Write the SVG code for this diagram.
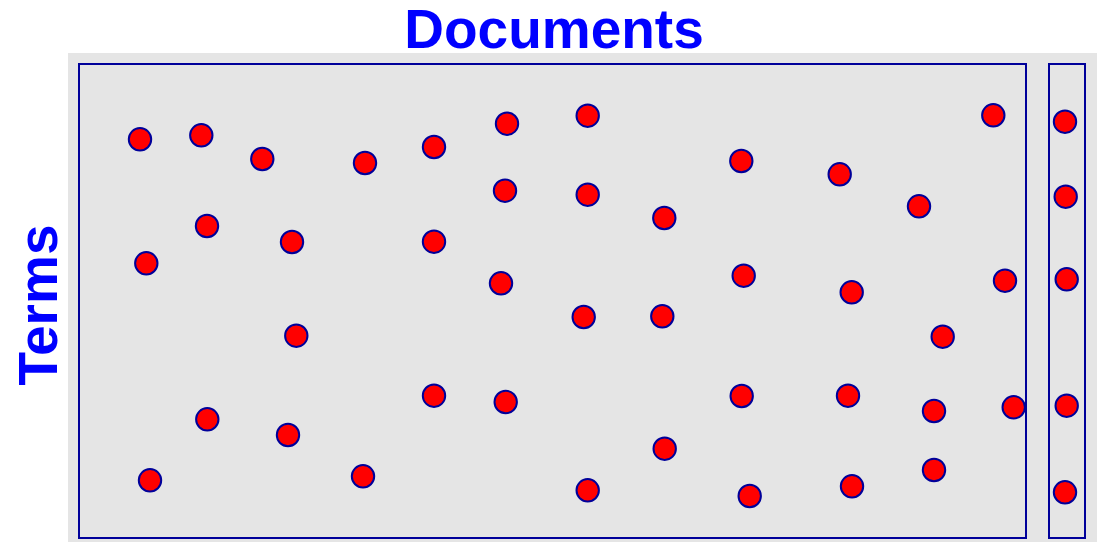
<svg xmlns="http://www.w3.org/2000/svg" width="1103" height="542" viewBox="0 0 1103 542">
<style>
.lbl{font-family:"Liberation Sans",Arial,sans-serif;font-weight:bold;font-size:55px;fill:#0000ff;text-anchor:middle}
.box{fill:none;stroke:#00009a;stroke-width:2}
.d{fill:#ff0000;stroke:#00009a;stroke-width:2}
</style>
<rect x="68" y="53" width="1029" height="489" fill="#e5e5e5"/>
<text class="lbl" x="554" y="48">Documents</text>
<text class="lbl" transform="translate(57,305) rotate(-90)">Terms</text>
<g id="matrix"><rect class="box" x="79" y="64" width="947" height="474"/></g>
<g id="query"><rect class="box" x="1049" y="64" width="36" height="474"/></g>
<g id="dots">
<circle class="d" cx="140" cy="139.3" r="11.2"/>
<circle class="d" cx="201.3" cy="135.3" r="11.2"/>
<circle class="d" cx="262.3" cy="159" r="11.2"/>
<circle class="d" cx="365" cy="163" r="11.2"/>
<circle class="d" cx="434" cy="147" r="11.2"/>
<circle class="d" cx="207" cy="226" r="11.2"/>
<circle class="d" cx="292" cy="242" r="11.2"/>
<circle class="d" cx="434" cy="241.7" r="11.2"/>
<circle class="d" cx="146.3" cy="263.3" r="11.2"/>
<circle class="d" cx="507" cy="123.7" r="11.2"/>
<circle class="d" cx="587.7" cy="115.7" r="11.2"/>
<circle class="d" cx="741.3" cy="161" r="11.2"/>
<circle class="d" cx="505" cy="190.7" r="11.2"/>
<circle class="d" cx="587.7" cy="194.7" r="11.2"/>
<circle class="d" cx="664.3" cy="218" r="11.2"/>
<circle class="d" cx="993.3" cy="115.3" r="11.2"/>
<circle class="d" cx="1065" cy="121.7" r="11.2"/>
<circle class="d" cx="839.7" cy="174.3" r="11.2"/>
<circle class="d" cx="919" cy="206.3" r="11.2"/>
<circle class="d" cx="1065.7" cy="196.7" r="11.2"/>
<circle class="d" cx="296.3" cy="335.7" r="11.2"/>
<circle class="d" cx="434" cy="395.7" r="11.2"/>
<circle class="d" cx="207.3" cy="419.3" r="11.2"/>
<circle class="d" cx="288" cy="435" r="11.2"/>
<circle class="d" cx="150" cy="480.3" r="11.2"/>
<circle class="d" cx="363" cy="476.3" r="11.2"/>
<circle class="d" cx="501" cy="283.3" r="11.2"/>
<circle class="d" cx="583.7" cy="317" r="11.2"/>
<circle class="d" cx="662.3" cy="316.3" r="11.2"/>
<circle class="d" cx="743.7" cy="275.7" r="11.2"/>
<circle class="d" cx="505.7" cy="402" r="11.2"/>
<circle class="d" cx="741.7" cy="396" r="11.2"/>
<circle class="d" cx="664.7" cy="448.7" r="11.2"/>
<circle class="d" cx="587.7" cy="490.3" r="11.2"/>
<circle class="d" cx="749.7" cy="496" r="11.2"/>
<circle class="d" cx="851.7" cy="292.3" r="11.2"/>
<circle class="d" cx="1005" cy="280.7" r="11.2"/>
<circle class="d" cx="1066.7" cy="279.3" r="11.2"/>
<circle class="d" cx="942.7" cy="336.7" r="11.2"/>
<circle class="d" cx="848" cy="395.7" r="11.2"/>
<circle class="d" cx="934" cy="411" r="11.2"/>
<circle class="d" cx="1013.7" cy="407.3" r="11.2"/>
<circle class="d" cx="1066.7" cy="405.7" r="11.2"/>
<circle class="d" cx="934" cy="470" r="11.2"/>
<circle class="d" cx="852" cy="486.3" r="11.2"/>
<circle class="d" cx="1065" cy="492.3" r="11.2"/>
</g>
</svg>
